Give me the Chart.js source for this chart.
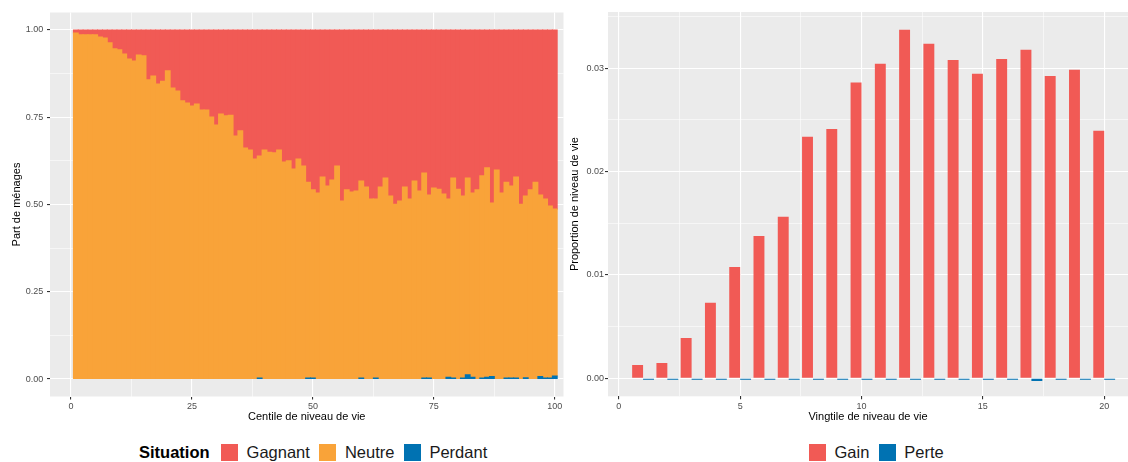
<!DOCTYPE html>
<html lang="fr">
<head>
<meta charset="utf-8">
<script src="https://cdn.jsdelivr.net/npm/chart.js@4.4.1/dist/chart.umd.min.js"></script>
<style>
  html, body { margin: 0; padding: 0; background: #fff; width: 1128px; height: 462px; overflow: hidden;
    font-family: "Liberation Sans", Arial, sans-serif; }
  .panel { position: absolute; top: 0; height: 430px; }
  #left { left: 0; width: 564px; }
  #right { left: 564px; width: 564px; }
  .legend { position: absolute; top: 443px; height: 19px; display: flex; align-items: center;
    font-size: 16.5px; color: #1a1a1a; white-space: nowrap; }
  .legend b { margin-right: 11.5px; color: #000; }
  .legend .item { display: flex; align-items: center; margin-right: 9.5px; }
  .legend .key { width: 17px; height: 17px; margin-right: 8.5px; }
</style>
</head>
<body>
<div class="panel" id="left"><canvas id="cLeft"></canvas></div>
<div class="panel" id="right"><canvas id="cRight"></canvas></div>
<div class="legend" id="legLeft" style="left:139px"></div>
<div class="legend" id="legRight" style="left:809px"></div>
<script>
// centiles 1..100 : share of households by situation
const centiles = Array.from({ length: 100 }, (_, i) => i + 1);
const neutre = [
  0.991, 0.986, 0.986, 0.986, 0.986, 0.980, 0.977, 0.963, 0.946, 0.943,
  0.931, 0.917, 0.911, 0.928, 0.926, 0.857, 0.868, 0.845, 0.853, 0.883,
  0.834, 0.825, 0.797, 0.791, 0.782, 0.788, 0.771, 0.771, 0.751, 0.728,
  0.759, 0.754, 0.756, 0.696, 0.711, 0.662, 0.656, 0.630, 0.636, 0.656,
  0.650, 0.648, 0.656, 0.622, 0.625, 0.602, 0.630, 0.610, 0.561, 0.539,
  0.533, 0.579, 0.553, 0.570, 0.610, 0.510, 0.542, 0.536, 0.539, 0.564,
  0.550, 0.516, 0.513, 0.550, 0.576, 0.524, 0.501, 0.510, 0.550, 0.516,
  0.567, 0.539, 0.587, 0.524, 0.547, 0.544, 0.530, 0.511, 0.573, 0.544,
  0.521, 0.564, 0.528, 0.542, 0.579, 0.600, 0.497, 0.599, 0.533, 0.561,
  0.550, 0.576, 0.501, 0.520, 0.542, 0.564, 0.520, 0.513, 0.493, 0.478
];
const gagnant = [
  0.009, 0.014, 0.014, 0.014, 0.014, 0.020, 0.023, 0.037, 0.054, 0.057,
  0.069, 0.083, 0.089, 0.072, 0.074, 0.143, 0.132, 0.155, 0.147, 0.117,
  0.166, 0.175, 0.203, 0.209, 0.218, 0.212, 0.229, 0.229, 0.249, 0.272,
  0.241, 0.246, 0.244, 0.304, 0.289, 0.338, 0.344, 0.370, 0.361, 0.344,
  0.350, 0.352, 0.344, 0.378, 0.375, 0.398, 0.370, 0.390, 0.436, 0.458,
  0.467, 0.421, 0.447, 0.430, 0.390, 0.490, 0.458, 0.464, 0.461, 0.433,
  0.450, 0.484, 0.484, 0.450, 0.424, 0.476, 0.499, 0.490, 0.450, 0.484,
  0.433, 0.461, 0.410, 0.473, 0.453, 0.456, 0.470, 0.484, 0.424, 0.456,
  0.476, 0.424, 0.467, 0.458, 0.418, 0.395, 0.496, 0.401, 0.467, 0.436,
  0.447, 0.421, 0.499, 0.476, 0.458, 0.436, 0.473, 0.484, 0.504, 0.513
];
const perdant = [
  0, 0, 0, 0, 0, 0, 0, 0, 0, 0,
  0, 0, 0, 0, 0, 0, 0, 0, 0, 0,
  0, 0, 0, 0, 0, 0, 0, 0, 0, 0,
  0, 0, 0, 0, 0, 0, 0, 0, 0.003, 0,
  0, 0, 0, 0, 0, 0, 0, 0, 0.003, 0.003,
  0, 0, 0, 0, 0, 0, 0, 0, 0, 0.003,
  0, 0, 0.003, 0, 0, 0, 0, 0, 0, 0,
  0, 0, 0.003, 0.003, 0, 0, 0, 0.005, 0.003, 0,
  0.003, 0.012, 0.005, 0, 0.003, 0.005, 0.007, 0, 0, 0.003,
  0.003, 0.003, 0, 0.004, 0, 0, 0.007, 0.003, 0.003, 0.009
];

// vingtiles 1..20 : share of living standard gained / lost
const vingtiles = Array.from({ length: 20 }, (_, i) => i + 1);
const gain = [
  0.00129, 0.00148, 0.00390, 0.00730, 0.01078, 0.01378, 0.01562, 0.02336, 0.02413, 0.02862,
  0.03043, 0.03372, 0.03236, 0.03080, 0.02946, 0.03090, 0.03178, 0.02926, 0.02985, 0.02394
];
const perte = [
  -0.00013, -0.00013, -0.00013, -0.00013, -0.00013, -0.00013, -0.00013, -0.00013, -0.00013, -0.00013,
  -0.00013, -0.00013, -0.00013, -0.00013, -0.00013, -0.00013, -0.00025, -0.00013, -0.00013, -0.00013
];

// axis breaks
const leftXBreaks = [0, 25, 50, 75, 100];
const leftYBreaks = [0, 0.25, 0.5, 0.75, 1];
const rightXBreaks = [0, 5, 10, 15, 20];
const rightYBreaks = [0, 0.01, 0.02, 0.03];

const RED = '#F15A55';
const ORANGE = '#F9A339';
const BLUE = '#0072B2';

Chart.defaults.font.family = '"Liberation Sans", Arial, sans-serif';

// majors plus the minor lines halfway between them (and one step beyond)
function withMinors(breaks) {
  const step = breaks[1] - breaks[0];
  const out = [];
  breaks.forEach(b => { out.push(b - step / 2, b); });
  out.push(breaks[breaks.length - 1] + step / 2);
  return out;
}
const isOn = (v, list) => list.some(b => Math.abs(v - b) < 1e-9);

function gridFor(breaks) {
  return {
    color: '#FFFFFF',
    lineWidth: c => (c.tick && isOn(c.tick.value, breaks)) ? 1.1 : 0.55,
    tickColor: c => (c.tick && isOn(c.tick.value, breaks)) ? '#333333' : 'rgba(0,0,0,0)',
    tickLength: 3,
    tickWidth: 1.1,
    offset: false
  };
}

function axis(opts) {
  const { breaks, min, max, fmt, title, horizontal, size, titlePad, labelPad, stacked } = opts;
  return {
    type: 'linear',
    min, max,
    stacked: !!stacked,
    offset: false,
    grid: gridFor(breaks),
    border: { display: false },
    afterBuildTicks: s => {
      s.ticks = withMinors(breaks).filter(v => v >= min && v <= max).map(v => ({ value: v }));
    },
    afterFit: s => { if (horizontal) s.height = size; else s.width = size; },
    ticks: {
      autoSkip: false, maxRotation: 0, padding: labelPad,
      color: '#4D4D4D', font: { size: 9 },
      callback: v => isOn(v, breaks) ? fmt(v) : ''
    },
    title: {
      display: true, text: title, color: '#000000', font: { size: 11 },
      padding: horizontal ? { top: 0, bottom: titlePad } : { top: titlePad, bottom: 0 }
    }
  };
}

const panelBg = {
  id: 'panelBg',
  beforeDraw(chart) {
    const { ctx, chartArea: a } = chart;
    ctx.save();
    ctx.fillStyle = '#EBEBEB';
    ctx.fillRect(a.left, a.top, a.right - a.left, a.bottom - a.top);
    ctx.restore();
  }
};

const points = (xs, ys) => xs.map((x, i) => ({ x, y: ys[i] === 0 ? null : ys[i] }));

const leftChart = new Chart(document.getElementById('cLeft'), {
  type: 'bar',
  data: {
    datasets: [
      { label: 'Perdant', data: points(centiles, perdant), backgroundColor: BLUE },
      { label: 'Neutre', data: points(centiles, neutre), backgroundColor: ORANGE },
      { label: 'Gagnant', data: points(centiles, gagnant), backgroundColor: RED }
    ]
  },
  options: {
    animation: false,
    responsive: true,
    maintainAspectRatio: false,
    layout: { padding: { top: 12.5, right: 0.5, left: 0, bottom: 0 } },
    // a slight inflate closes the hairline seams between adjacent bars
    datasets: { bar: { categoryPercentage: 1, barPercentage: 1, borderWidth: 0, inflateAmount: 0.5 } },
    plugins: { legend: { display: false }, tooltip: { enabled: false } },
    scales: {
      x: axis({ breaks: leftXBreaks, min: -4.34, max: 101.8, fmt: v => String(v), stacked: true,
        title: 'Centile de niveau de vie', horizontal: true, size: 33.5, titlePad: 6.4, labelPad: 1.5 }),
      y: axis({ breaks: leftYBreaks, min: -0.05, max: 1.05, fmt: v => v.toFixed(2), stacked: true,
        title: 'Part de ménages', horizontal: false, size: 50, titlePad: 10.1, labelPad: 3.7 })
    }
  },
  plugins: [panelBg]
});

const rightChart = new Chart(document.getElementById('cRight'), {
  type: 'bar',
  data: {
    datasets: [
      { label: 'Gain', data: points(vingtiles, gain), backgroundColor: RED },
      { label: 'Perte', data: points(vingtiles, perte), backgroundColor: BLUE }
    ]
  },
  options: {
    animation: false,
    responsive: true,
    maintainAspectRatio: false,
    layout: { padding: { top: 12, right: 0, left: 0, bottom: 0 } },
    datasets: { bar: { categoryPercentage: 0.9, barPercentage: 1, borderWidth: 0 } },
    plugins: { legend: { display: false }, tooltip: { enabled: false } },
    scales: {
      x: axis({ breaks: rightXBreaks, min: -0.445, max: 20.98, fmt: v => String(v),
        title: 'Vingtile de niveau de vie', horizontal: true, size: 33.7, titlePad: 6.4, labelPad: 1.5 }),
      y: axis({ breaks: rightYBreaks, min: -0.00174, max: 0.03544, fmt: v => v.toFixed(2),
        title: 'Proportion de niveau de vie', horizontal: false, size: 44, titlePad: 4.1, labelPad: 1 })
    }
  },
  plugins: [panelBg]
});

// legends listed in ggplot order (top of stack first)
function buildLegend(el, title, datasets) {
  if (title) {
    const b = document.createElement('b');
    b.textContent = title;
    el.appendChild(b);
  }
  datasets.forEach(ds => {
    const item = document.createElement('span');
    item.className = 'item';
    const key = document.createElement('span');
    key.className = 'key';
    key.style.background = ds.backgroundColor;
    const txt = document.createElement('span');
    txt.textContent = ds.label;
    item.appendChild(key);
    item.appendChild(txt);
    el.appendChild(item);
  });
}
buildLegend(document.getElementById('legLeft'), 'Situation', leftChart.data.datasets.slice().reverse());
buildLegend(document.getElementById('legRight'), '', rightChart.data.datasets);
</script>
</body>
</html>
